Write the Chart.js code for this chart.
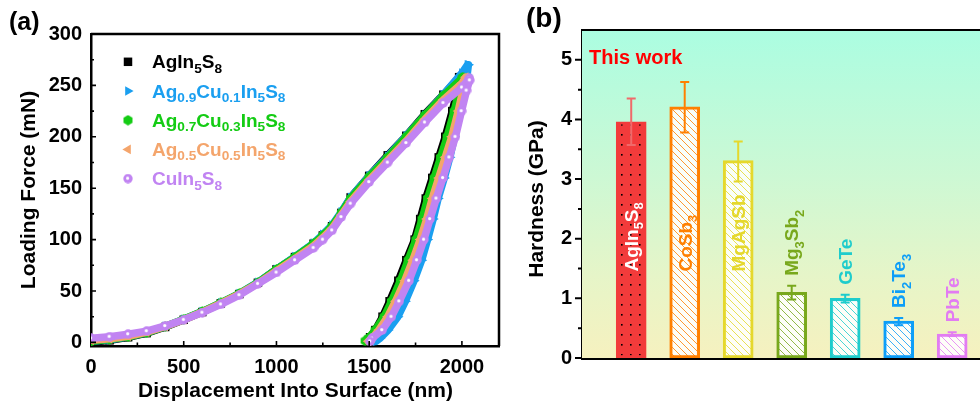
<!DOCTYPE html>
<html><head><meta charset="utf-8">
<script src="https://cdn.jsdelivr.net/npm/chart.js@4.4.1/dist/chart.umd.min.js"></script>
<style>
html,body{margin:0;padding:0;background:#fff;width:980px;height:407px;overflow:hidden}
#ca{position:absolute;left:0;top:0}
#cb{position:absolute;left:500px;top:0}
</style></head><body>
<canvas id="ca" width="505" height="407"></canvas>
<canvas id="cb" width="480" height="407"></canvas>
<script>
const FONT = "'Liberation Sans', Arial, Helvetica, sans-serif";

// ---------------- Panel (a) data ----------------
const seriesLabels = ['AgIn{5}S{8}', 'Ag{0.9}Cu{0.1}In{5}S{8}', 'Ag{0.7}Cu{0.3}In{5}S{8}', 'Ag{0.5}Cu{0.5}In{5}S{8}', 'CuIn{5}S{8}'];
const seriesColors = ['#000000', '#1a9ff0', '#14cc14', '#f4a56c', '#c184f2'];
const dispTicks = [0, 500, 1000, 1500, 2000];
const forceTicks = [0, 50, 100, 150, 200, 250, 300];

const agIn5S8_disp  = [0,100,200,300,400,500,600,700,800,900,1000,1100,1200,1250,1300,1350,1400,1500,1600,1700,1800,1900,1985,
                       1992,1975,1948,1910,1875,1840,1805,1775,1745,1700,1657,1610,1572,1533,1505];
const agIn5S8_force = [0,2,5,9,15,22,29.5,38,47,58,71,83,96,104,113,126,141,162,182,201,222,241,258,
                       258,245,225,200,180,160,140,120,100,80,60,40,25,12,5];

const ag09_disp  = [0,100,200,300,400,500,600,700,800,900,1000,1100,1200,1250,1300,1350,1400,1500,1600,1700,1800,1900,2000,2030,
                    2035,2028,2012,1990,1960,1935,1905,1872,1845,1815,1783,1742,1695,1655,1602,1558,1537];
const ag09_force = [1,2.5,5.5,9.5,15.5,22.5,30,38.5,47.5,58.5,71,83.5,96.5,105,114,127,141,162,181,201,221,241,262,270,
                    270,260,245,225,200,180,160,140,120,100,80,60,40,25,12,4,1];

const ag07_disp  = [0,100,200,300,400,500,600,700,800,900,1000,1100,1200,1250,1300,1350,1400,1500,1600,1700,1800,1900,2000,
                    2005,1985,1958,1920,1885,1850,1815,1785,1752,1710,1668,1620,1580,1532,1495,1478];
const ag07_force = [1,3,5.5,9.5,15.5,22.5,30,38.5,47.5,58,71,83,96,104,113,126,140,161,180,200,221,240,257,
                    258,245,225,200,180,160,140,120,100,80,60,40,25,12,4,1.5];

const ag05_disp  = [0,100,200,300,400,500,600,700,800,900,1000,1100,1200,1250,1300,1350,1400,1500,1600,1700,1800,1900,2000,2020,
                    2022,2005,1980,1945,1910,1875,1840,1810,1775,1735,1692,1642,1600,1552,1515,1495];
const ag05_force = [2,3.5,6,10,15.5,22,29.5,38,47,57.5,69.5,81.5,94,102,111,124,137,158,177,196,217,236,252,258,
                    256,245,225,200,180,160,140,120,100,80,60,40,25,12,4,1];

const cuIn5S8_disp  = [0,100,200,300,400,500,600,700,800,900,1000,1100,1200,1250,1300,1350,1400,1500,1600,1700,1800,1900,2000,2040,
                       2042,2025,1998,1965,1932,1898,1862,1828,1795,1757,1715,1662,1620,1570,1515,1505];
const cuIn5S8_force = [4,5.5,8,11,16,22,29,37,46,57,68,80,92,100,109,122,135,156,175,194,214,233,248,257,
                       255,245,225,200,180,160,140,120,100,80,60,40,25,12,4,1];

const seriesDisp  = [agIn5S8_disp, ag09_disp, ag07_disp, ag05_disp, cuIn5S8_disp];
const seriesForce = [agIn5S8_force, ag09_force, ag07_force, ag05_force, cuIn5S8_force];

// ---------------- Panel (b) data ----------------
const hardLabels   = ['AgIn{5}S{8}', 'CoSb{3}', 'MgAgSb', 'Mg{3}Sb{2}', 'GeTe', 'Bi{2}Te{3}', 'PbTe'];
const hardness     = [3.96, 4.21, 3.31, 1.10, 1.00, 0.62, 0.40];
const hardErrHigh  = [4.35, 4.63, 3.63, 1.21, 1.06, 0.67, 0.43];
const hardErrLow   = [3.57, 3.78, 2.96, 0.98, 0.93, 0.55, 0.37];
const hardTicks    = [0, 1, 2, 3, 4, 5];
const barColors    = ['#f23b3b', '#ff8000', '#e5d82c', '#78a81c', '#1ecccc', '#0d9ef8', '#e27cf2'];
const labelColors  = ['#ffffff', '#ff8000', '#e5d82c', '#78a81c', '#1ecccc', '#0d9ef8', '#e27cf2'];

// ---------------- helpers ----------------
function parseRich(s){ const out=[]; const re=/([^{]+)|\{([^}]*)\}/g; let m; while((m=re.exec(s))){ if(m[1]) out.push({t:m[1],sub:false}); else out.push({t:m[2],sub:true}); } return out; }
function drawRich(ctx, s, x, y, size, color, subScale, subDrop){
  ctx.fillStyle=color; ctx.textBaseline='alphabetic'; ctx.textAlign='left';
  let cx=x;
  for(const seg of parseRich(s)){
    const fs = seg.sub ? size*subScale : size;
    ctx.font = 'bold ' + fs + 'px ' + FONT;
    ctx.fillText(seg.t, cx, y + (seg.sub ? size*subDrop : 0));
    cx += ctx.measureText(seg.t).width;
  }
  return cx-x;
}
function makeHex(color){ const c=document.createElement('canvas'); c.width=c.height=11; const g=c.getContext('2d'); g.fillStyle=color; g.beginPath(); for(let k=0;k<6;k++){ const a=Math.PI/6+k*Math.PI/3; const px=5.5+5.2*Math.cos(a), py=5.5+5.2*Math.sin(a); k?g.lineTo(px,py):g.moveTo(px,py);} g.closePath(); g.fill(); return c; }
function makeBall(color){ const c=document.createElement('canvas'); c.width=c.height=10; const g=c.getContext('2d'); g.fillStyle=color; g.beginPath(); g.arc(5,5,4.7,0,Math.PI*2); g.fill(); g.fillStyle='#ffffff'; g.beginPath(); g.arc(4.6,4.6,1.6,0,Math.PI*2); g.fill(); return c; }

const markerStyles = [
  {style:'rect', rot:0, r:6},
  {style:'triangle', rot:90, r:5.6},
  {style:makeHex(seriesColors[2]), rot:0, r:5},
  {style:'triangle', rot:-90, r:5.6},
  {style:makeBall(seriesColors[4]), rot:0, r:5}
];

function drawMarker(ctx, i, x, y){
  ctx.save();
  ctx.fillStyle = seriesColors[i];
  Chart.helpers.drawPoint(ctx, {pointStyle: markerStyles[i].style, rotation: markerStyles[i].rot, radius: markerStyles[i].r, borderWidth: 0}, x, y);
  ctx.restore();
}

// ---------------- Chart (a) ----------------
const panelAPlugin = {
  id:'panelA',
  afterDraw(chart){
    const ctx=chart.ctx, a=chart.chartArea, xs=chart.scales.x, ys=chart.scales.y;
    ctx.save();
    ctx.strokeStyle='#000'; ctx.lineWidth=2.5;
    ctx.beginPath(); ctx.moveTo(a.left, a.top); ctx.lineTo(a.right, a.top); ctx.lineTo(a.right, a.bottom); ctx.stroke();
    ctx.lineWidth=1.6;
    ctx.beginPath();
    for(let v=0; v<=300; v+=25){ const y=ys.getPixelForValue(v); const L=(v%50===0)?5:3; ctx.moveTo(a.left, y); ctx.lineTo(a.left+L, y); }
    for(let v=250; v<=2200; v+=250){ const x=xs.getPixelForValue(v); const L=(v%500===0)?5:3.5; ctx.moveTo(x, a.bottom); ctx.lineTo(x, a.bottom-L); }
    ctx.stroke();
    // legend
    const rowsY=[68.3, 97.5, 126.7, 155.9, 185.1];
    for(let i=0;i<seriesLabels.length;i++){
      drawMarker(ctx, i, 128, rowsY[i]-6.5);
      drawRich(ctx, seriesLabels[i], 152, rowsY[i], 19, seriesColors[i], 0.72, 0.24);
    }
    // titles
    ctx.fillStyle='#000'; ctx.font='bold 21px '+FONT; ctx.textAlign='center'; ctx.textBaseline='alphabetic';
    ctx.fillText('Displacement Into Surface (nm)', (a.left+a.right)/2 + 0.5, 397);
    ctx.save(); ctx.translate(35, (a.top+a.bottom)/2); ctx.rotate(-Math.PI/2);
    ctx.fillText('Loading Force (mN)', 0, 0); ctx.restore();
    ctx.font='bold 25px '+FONT; ctx.textAlign='left';
    ctx.fillText('(a)', 9, 30);
    ctx.restore();
  }
};

new Chart(document.getElementById('ca'), {
  type:'scatter',
  data:{ datasets: seriesLabels.map((lab,i)=>({
    label: lab,
    data: seriesDisp[i].map((h,k)=>({x:h, y:seriesForce[i][k]})),
    showLine:true, borderColor: seriesColors[i], borderWidth:7.5, borderJoinStyle:'round', borderCapStyle:'round', tension:0,
    pointStyle: markerStyles[i].style, pointRotation: markerStyles[i].rot, pointRadius: markerStyles[i].r,
    pointBackgroundColor: seriesColors[i], pointBorderWidth:0, pointHoverRadius: markerStyles[i].r,
    order: 5-i
  }))},
  options:{
    responsive:false, animation:false, devicePixelRatio:1,
    layout:{padding:{top:34, right:5, left:0, bottom:0}},
    plugins:{legend:{display:false}, tooltip:{enabled:false}},
    scales:{
      x:{ type:'linear', min:0, max:2200,
          afterBuildTicks(s){ s.ticks = dispTicks.map(v=>({value:v})); },
          afterFit(s){ s.height = 61; },
          grid:{display:false, drawTicks:false},
          border:{display:true, color:'#000', width:2.5},
          ticks:{ color:'#000', padding:9, maxRotation:0, callback:(v)=>String(v), font:{family:FONT, size:20, weight:'bold'} } },
      y:{ type:'linear', min:-3.5, max:300,
          afterBuildTicks(s){ s.ticks = forceTicks.map(v=>({value:v})); },
          afterFit(s){ s.width = 91; },
          grid:{display:false, drawTicks:false},
          border:{display:true, color:'#000', width:2.5},
          ticks:{ color:'#000', padding:9, callback:(v)=>String(v), font:{family:FONT, size:20, weight:'bold'} } }
    }
  },
  plugins:[panelAPlugin]
});

// ---------------- Chart (b) ----------------
const ctxB = document.getElementById('cb').getContext('2d');
function hatchPattern(color){
  const c=document.createElement('canvas'); c.width=c.height=7; const g=c.getContext('2d');
  g.fillStyle='rgba(255,255,255,0.88)'; g.fillRect(0,0,7,7);
  g.strokeStyle=color; g.globalAlpha=0.8; g.lineWidth=1;
  g.beginPath(); g.moveTo(-1,-1); g.lineTo(8,8); g.moveTo(-1,6); g.lineTo(1,8); g.moveTo(6,-1); g.lineTo(8,1); g.stroke();
  return ctxB.createPattern(c,'repeat');
}
function dotPattern(color){
  const c=document.createElement('canvas'); c.width=9; c.height=10; const g=c.getContext('2d');
  g.fillStyle=color; g.fillRect(0,0,9,10); g.fillStyle='#000'; g.fillRect(4,4,1.6,1.6);
  return ctxB.createPattern(c,'repeat');
}
const barFills = barColors.map((c,i)=> i===0 ? dotPattern(c) : hatchPattern(c));

const panelBPlugin = {
  id:'panelB',
  beforeDatasetsDraw(chart){
    const ctx=chart.ctx, a=chart.chartArea;
    const g=ctx.createLinearGradient(0,a.top,0,a.bottom);
    g.addColorStop(0,'#abfde1'); g.addColorStop(0.45,'#cdf8d4'); g.addColorStop(0.75,'#e6f5c8'); g.addColorStop(1,'#f6f1bf');
    ctx.save(); ctx.fillStyle=g; ctx.fillRect(a.left,a.top,a.right-a.left,a.bottom-a.top); ctx.restore();
  },
  afterDatasetsDraw(chart){
    const ctx=chart.ctx, ys=chart.scales.y, meta=chart.getDatasetMeta(0);
    ctx.save();
    meta.data.forEach((bar,i)=>{
      const x=bar.x, yh=ys.getPixelForValue(hardErrHigh[i]), yl=ys.getPixelForValue(hardErrLow[i]);
      ctx.strokeStyle = i===0 ? '#f06a6a' : barColors[i]; ctx.lineWidth=2;
      ctx.beginPath(); ctx.moveTo(x,yh); ctx.lineTo(x,yl);
      ctx.moveTo(x-4.5,yh); ctx.lineTo(x+4.5,yh); ctx.moveTo(x-4.5,yl); ctx.lineTo(x+4.5,yl); ctx.stroke();
      const bottom = i<3 ? ys.getPixelForValue(1.45) : yh-10;
      ctx.save(); ctx.translate(x, bottom); ctx.rotate(-Math.PI/2);
      drawRich(ctx, hardLabels[i], 0, 6.8, 19, labelColors[i], 0.68, 0.27);
      ctx.restore();
    });
    ctx.restore();
  },
  afterDraw(chart){
    const ctx=chart.ctx, a=chart.chartArea, ys=chart.scales.y;
    ctx.save();
    ctx.strokeStyle='#000'; ctx.lineWidth=2.2;
    ctx.beginPath(); ctx.moveTo(a.left, a.top); ctx.lineTo(a.right, a.top); ctx.stroke();
    ctx.lineWidth=2;
    ctx.beginPath();
    for(let v=0; v<=5; v+=0.5){ const y=ys.getPixelForValue(v); const L=(Math.abs(v-Math.round(v))<1e-6)?7:4; ctx.moveTo(a.left, y); ctx.lineTo(a.left-L, y); }
    ctx.stroke();
    ctx.fillStyle='#ff0000'; ctx.font='bold 20px '+FONT; ctx.textAlign='left'; ctx.textBaseline='alphabetic';
    ctx.fillText('This work', 89, 63.5);
    ctx.fillStyle='#000'; ctx.font='bold 21px '+FONT; ctx.textAlign='center';
    ctx.save(); ctx.translate(43, (a.top+a.bottom)/2 + 5); ctx.rotate(-Math.PI/2);
    ctx.fillText('Hardness (GPa)', 0, 0); ctx.restore();
    ctx.font='bold 28px '+FONT; ctx.textAlign='left';
    ctx.fillText('(b)', 26, 27);
    ctx.restore();
  }
};

new Chart(ctxB, {
  type:'bar',
  data:{ datasets:[{
    label:'Hardness',
    data: hardness.map((v,i)=>({x:i+1, y:v})),
    backgroundColor: barFills, borderColor: barColors, borderWidth:3, borderSkipped:false, barThickness:30
  }]},
  options:{
    responsive:false, animation:false, devicePixelRatio:1,
    layout:{padding:{top:30, right:0, left:0, bottom:0}},
    plugins:{legend:{display:false}, tooltip:{enabled:false}},
    scales:{
      x:{ type:'linear', min:0.08, max:7.52, offset:false,
          afterFit(s){ s.height = 49; },
          grid:{display:false, drawTicks:false},
          border:{display:true, color:'#000', width:3},
          ticks:{display:false} },
      y:{ type:'linear', min:0, max:5.5,
          afterBuildTicks(s){ s.ticks = hardTicks.map(v=>({value:v})); },
          afterFit(s){ s.width = 82; },
          grid:{display:false, drawTicks:false},
          border:{display:true, color:'#000', width:2.2},
          ticks:{ color:'#000', padding:10, font:{family:FONT, size:20, weight:'bold'} } }
    }
  },
  plugins:[panelBPlugin]
});
</script>
</body></html>
